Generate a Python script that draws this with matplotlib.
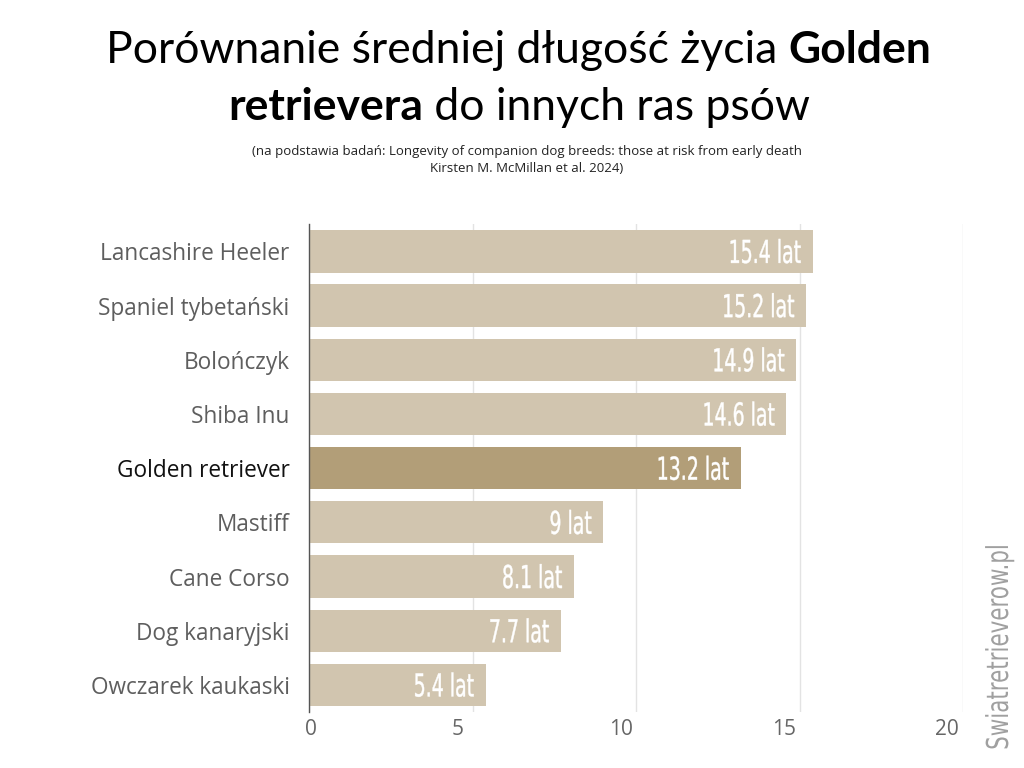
import matplotlib.pyplot as plt
import matplotlib.transforms as mtransforms
from matplotlib.textpath import TextPath
from matplotlib.patches import PathPatch
from matplotlib.font_manager import FontProperties

# Data
breeds = ['Lancashire Heeler', 'Spaniel tybetański', 'Bolończyk', 'Shiba Inu',
          'Golden retriever', 'Mastiff', 'Cane Corso', 'Dog kanaryjski',
          'Owczarek kaukaski']
lifespan = [15.4, 15.2, 14.9, 14.6, 13.2, 9, 8.1, 7.7, 5.4]
value_labels = ['15.4 lat', '15.2 lat', '14.9 lat', '14.6 lat', '13.2 lat',
                '9 lat', '8.1 lat', '7.7 lat', '5.4 lat']
highlight = 'Golden retriever'
xticks = [0, 5, 10, 15, 20]

plt.rcParams['font.family'] = ['Open Sans', 'DejaVu Sans']

fig = plt.figure(figsize=(10.24, 7.68), dpi=100)
ax = fig.add_axes([0.3018, 0.0729, 0.6387, 0.635])

light = '#d1c5af'
dark = '#b29e78'
ypos = list(range(len(breeds)))
colors = [dark if b == highlight else light for b in breeds]
ax.barh(ypos, lifespan, height=0.78, color=colors, zorder=2)
ax.set_ylim(len(breeds) - 0.5, -0.5)
ax.set_xlim(0, 20)

# grid and spines
ax.set_xticks(xticks)
ax.xaxis.grid(True, color='#e3e3e3', linewidth=1, zorder=0)
for s in ['top', 'right', 'bottom']:
    ax.spines[s].set_visible(False)
ax.spines['left'].set_color('#555555')
ax.spines['left'].set_linewidth(1)
ax.tick_params(axis='both', length=0)
ax.tick_params(axis='x', pad=5, labelsize=15, labelcolor='#666666')
ax.tick_params(axis='y', pad=14, labelsize=16.3)
ax.set_yticks(ypos)
ax.set_yticklabels(breeds)
for lab in ax.get_yticklabels():
    lab.set_color('#111111' if lab.get_text() == highlight else '#5e5e5e')

offsets = [2, -15, -15, -16, -16]
for lab, dx in zip(ax.get_xticklabels(), offsets):
    lab.set_transform(lab.get_transform() +
                      mtransforms.ScaledTranslation(dx / 100, 0, fig.dpi_scale_trans))

# narrow text (no condensed font installed -> squeeze a text path)
narrow_prop = FontProperties(family='DejaVu Sans')


def narrow_text(x, y, s, cap_px, sx, color, ha='right', rotation=0, lw=0):
    path = TextPath((0, 0), s, size=1, prop=narrow_prop)
    ext = path.get_extents()
    k = cap_px / 0.729
    w = ext.x1 * k * sx
    dx = {'right': -w, 'center': -w / 2, 'left': 0}[ha]
    tr = (mtransforms.Affine2D().scale(k * sx, k)
          .translate(dx, -cap_px / 2).rotate_deg(rotation).translate(x, y))
    fig.add_artist(PathPatch(path, transform=tr, facecolor=color,
                             edgecolor=color if lw else 'none', linewidth=lw,
                             zorder=5))


# value labels inside bars
for y, v, lab in zip(ypos, lifespan, value_labels):
    px, py = ax.transData.transform((v, y))
    narrow_text(px - 12, py, lab, 23, 0.6, 'white', lw=0.3)

# title with mixed weights
title_font = ['Lato', 'DejaVu Sans']
renderer = fig.canvas.get_renderer()


def draw_line(parts, y):
    texts = []
    for s, w in parts:
        t = fig.text(0, y, s, fontsize=32, fontweight=w, family=title_font,
                     va='baseline', ha='left')
        texts.append(t)
    widths = [t.get_window_extent(renderer).width for t in texts]
    x = 519 - sum(widths) / 2
    for t, w in zip(texts, widths):
        t.set_x(x / 1024)
        x += w


draw_line([('Porównanie średniej długość życia ', 'normal'), ('Golden', 'bold')],
          1 - 63 / 768)
draw_line([('retrievera', 'bold'), (' do innych ras psów', 'normal')],
          1 - 120 / 768)

fig.text(527 / 1024, 1 - 151 / 768,
         '(na podstawia badań: Longevity of companion dog breeds: those at risk from early death',
         ha='center', va='center', fontsize=9.5, color='#222222')
fig.text(527 / 1024, 1 - 169 / 768, 'Kirsten M. McMillan et al. 2024)',
         ha='center', va='center', fontsize=9.5, color='#222222')

# watermark
narrow_text(997, 768 - 648, 'Swiatretrieverow.pl', 22, 0.71, '#a0a0a0',
            ha='center', rotation=90)

fig.savefig('out.png', dpi=100)
